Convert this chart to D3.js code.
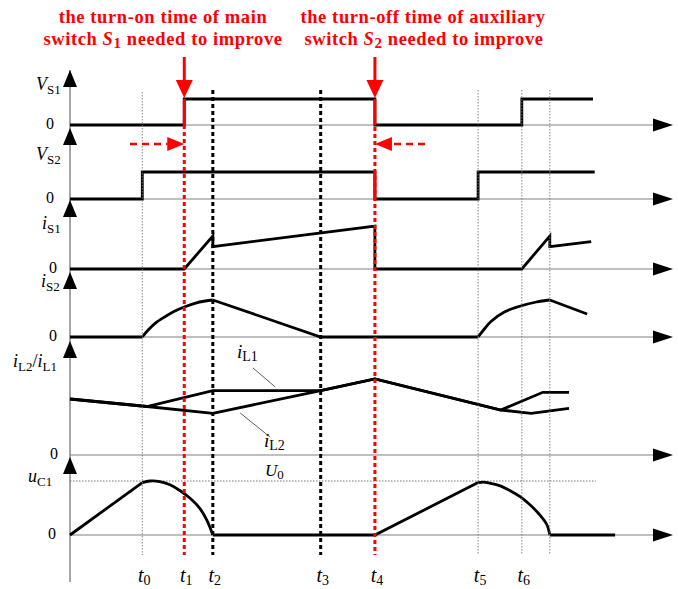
<!DOCTYPE html>
<html>
<head>
<meta charset="utf-8">
<script src="https://cdn.jsdelivr.net/npm/d3@7"></script>
<style>
  body { margin: 0; background: #fff; }
  svg { display: block; }
  text { font-family: "Liberation Serif", "Times New Roman", serif; }
</style>
</head>
<body>
<svg id="chart" width="678" height="589"></svg>
<script>
// ---- Switching instants (arbitrary time units) ----
const instantNames = ["t0", "t1", "t2", "t3", "t4", "t5", "t6", ""];
const instants = [12.4, 19.6, 24.5, 43.0, 52.3, 70.0, 77.5, 82.3];
const [t0, t1, t2, t3, t4, t5, t6, t7] = instants;

// ---- Switch voltages (0 = off, 1 = on level) ----
const vS1 = [[0, 0], [t1, 0], [t1, 1], [t4, 1], [t4, 0], [t6, 0], [t6, 1], [89.7, 1]];
const vS2 = [[0, 0], [t0, 0], [t0, 1], [t4, 1], [t4, 0], [t5, 0], [t5, 1], [90.0, 1]];

// ---- Switch currents ----
const iS1 = [[0, 0], [t1, 0], [t2, 3.3], [t2, 2.23], [t4, 4.3], [t4, 0], [t6, 0],
             [t7, 3.3], [t7, 2.23], [89.4, 2.73]];
const iS2Lines = [
  [[0, 0], [t0, 0]],
  [[t2, 3.7], [t3, 0], [t5, 0]],
  [[t7, 3.7], [88.7, 2.3]]
];
const iS2Arcs = [
  [[t0, 0], [13.4, 0.7], [14.6, 1.37], [16.3, 2.03], [18.0, 2.6], [19.7, 3.03],
   [21.4, 3.37], [23.2, 3.6], [t2, 3.7]],
  [[t5, 0], [71.0, 0.75], [72.2, 1.55], [74.5, 2.5], [77.0, 3.05], [80.0, 3.5], [t7, 3.7]]
];

// ---- Inductor currents ----
const iL1 = [[0, 5.6], [13.2, 4.85], [t2, 6.43], [t3, 6.43], [t4, 7.6], [73.9, 4.5],
             [81.1, 6.27], [85.6, 6.27]];
const iL2 = [[0, 5.6], [13.2, 4.85], [t2, 4.17], [t3, 6.43], [t4, 7.6], [73.9, 4.5],
             [79.1, 4.17], [85.6, 4.67]];

// ---- Resonant capacitor voltage (1 = U0) ----
const U0 = 1;
const uC1Lines = [
  [[0, 0], [t0, 0.97]],
  [[t2, 0], [t4, 0], [t5, 0.97]],
  [[t7, 0], [93.5, 0]]
];
const uC1Arcs = [
  [[t0, 0.97], [13.7, 1.0], [15.4, 0.99], [17.15, 0.93], [18.9, 0.82], [20.6, 0.68],
   [22.3, 0.49], [23.45, 0.28], [t2, 0]],
  [[t5, 0.97], [70.9, 0.98], [72.0, 0.96], [73.8, 0.91], [75.5, 0.82], [77.2, 0.71],
   [78.9, 0.56], [80.6, 0.37], [81.8, 0.19], [t7, 0]]
];

// ---- Layout ----
const svg = d3.select("#chart");
const x = d3.scaleLinear().domain([0, 100]).range([70, 653]);
const axisX0 = x(0), axisX1 = x(100);

const panels = {
  vS1: { base: 125, px: 26, top: 70,  zeroX: 54 },
  vS2: { base: 199, px: 27, top: 128, zeroX: 54 },
  iS1: { base: 269, px: 10, top: 200, zeroX: 57 },
  iS2: { base: 337, px: 10, top: 272, zeroX: 57 },
  iL:  { base: 455, px: 10, top: 341, zeroX: 58 },
  uC1: { base: 535, px: 54, top: 457, zeroX: 56 }
};
Object.values(panels).forEach(p => {
  p.y = d3.scaleLinear().domain([0, 1]).range([p.base, p.base - p.px]);
});

const gAxes = svg.append("g");
const gGuides = svg.append("g");
const gWaves = svg.append("g");
const gMarks = svg.append("g");
const gText = svg.append("g");

// ---- Axes ----
gAxes.append("line")
  .attr("x1", axisX0).attr("x2", axisX0)
  .attr("y1", panels.vS1.top).attr("y2", 582)
  .attr("stroke", "#808080").attr("stroke-width", 1.4);

Object.values(panels).forEach(p => {
  gAxes.append("line")
    .attr("x1", axisX0).attr("x2", axisX1 + 2)
    .attr("y1", p.base).attr("y2", p.base)
    .attr("stroke", "#808080").attr("stroke-width", 1.2);
  // x arrowhead
  gAxes.append("path")
    .attr("d", `M${axisX1},${p.base - 6.5}L${axisX1 + 20},${p.base}L${axisX1},${p.base + 6.5}Z`)
    .attr("fill", "#000");
  // y arrowhead
  gAxes.append("path")
    .attr("d", `M${axisX0},${p.top}L${axisX0 + 7},${p.top + 17}L${axisX0 - 7},${p.top + 17}Z`)
    .attr("fill", "#000");
});

// U0 reference level
gGuides.append("line")
  .attr("x1", axisX0).attr("x2", x(90.2))
  .attr("y1", panels.uC1.y(U0)).attr("y2", panels.uC1.y(U0))
  .attr("stroke", "#666").attr("stroke-width", 0.9).attr("stroke-dasharray", "1.5,1.5");

// ---- Instant guide lines ----
const guideStyle = {
  0: { color: "#777", w: 0.9, dash: "1.5,1.5", y1: 92 },
  1: { color: "#ff0000", w: 3, dash: "4,3", y1: panels.vS1.base },
  2: { color: "#000", w: 3, dash: "4,3", y1: 90 },
  3: { color: "#000", w: 3, dash: "4,3", y1: 90 },
  4: { color: "#ff0000", w: 3, dash: "4,3", y1: panels.vS1.base + 2 },
  5: { color: "#777", w: 0.9, dash: "1.5,1.5", y1: 90 },
  6: { color: "#777", w: 0.9, dash: "1.5,1.5", y1: 90 },
  7: { color: "#777", w: 0.9, dash: "1.5,1.5", y1: 90 }
};

function trace(data, p, curve) {
  gWaves.append("path")
    .attr("d", d3.line().x(d => x(d[0])).y(d => p.y(d[1])).curve(curve || d3.curveLinear)(data))
    .attr("fill", "none").attr("stroke", "#000").attr("stroke-width", 2.8)
    .attr("stroke-linejoin", "miter").attr("stroke-linecap", "butt");
}

const smooth = d3.curveCatmullRom.alpha(0.5);
trace(vS1, panels.vS1);
trace(vS2, panels.vS2);
trace(iS1, panels.iS1);
iS2Lines.forEach(s => trace(s, panels.iS2));
iS2Arcs.forEach(s => trace(s, panels.iS2, smooth));
trace(iL1, panels.iL);
trace(iL2, panels.iL);
uC1Lines.forEach(s => trace(s, panels.uC1));
uC1Arcs.forEach(s => trace(s, panels.uC1, smooth));

instants.forEach((t, i) => {
  const s = guideStyle[i];
  gMarks.append("line")
    .attr("x1", x(t)).attr("x2", x(t))
    .attr("y1", s.y1).attr("y2", 555)
    .attr("stroke", s.color).attr("stroke-width", s.w)
    .attr("stroke-dasharray", s.dash);
});

// ---- Highlighted switching edges ----
const red = "#ff0000";
[[t1, panels.vS1], [t4, panels.vS1], [t4, panels.vS2]].forEach(([t, p]) => {
  gMarks.append("line")
    .attr("x1", x(t)).attr("x2", x(t))
    .attr("y1", p.y(0)).attr("y2", p.y(1))
    .attr("stroke", red).attr("stroke-width", 3);
});

// Downward red arrows at the edges
[t1, t4].forEach(t => {
  const cx = x(t), tip = panels.vS1.y(1) - 1;
  gMarks.append("line")
    .attr("x1", cx).attr("x2", cx).attr("y1", 57).attr("y2", tip - 15)
    .attr("stroke", red).attr("stroke-width", 3);
  gMarks.append("path")
    .attr("d", `M${cx - 8.5},${tip - 18}L${cx + 8.5},${tip - 18}L${cx},${tip}Z`)
    .attr("fill", red);
});

// Dashed horizontal arrows showing the shift direction
const shiftY = 144;
[[t1, -1, 130], [t4, 1, 425]].forEach(([t, dir, tail]) => {
  const tip = x(t), base = tip + dir * 17;
  gMarks.append("line")
    .attr("x1", tail).attr("x2", base).attr("y1", shiftY).attr("y2", shiftY)
    .attr("stroke", red).attr("stroke-width", 2.4).attr("stroke-dasharray", "7,5");
  gMarks.append("path")
    .attr("d", `M${base},${shiftY - 7}L${tip},${shiftY}L${base},${shiftY + 7}Z`)
    .attr("fill", red);
});

// ---- Text ----
function label(g, xPos, yPos, parts, opts = {}) {
  const t = g.append("text").attr("x", xPos).attr("y", yPos)
    .attr("font-size", opts.size || 18)
    .attr("text-anchor", opts.anchor || "start")
    .attr("fill", opts.fill || "#000")
    .attr("font-weight", opts.weight || "normal");
  if (opts.spacing) t.attr("letter-spacing", opts.spacing);
  let shift = 0;
  parts.forEach(([str, kind]) => {
    const span = t.append("tspan").text(str);
    if (kind === "i") span.attr("font-style", "italic");
    const want = kind === "sub" ? (opts.subDy || 4) : 0;
    if (want !== shift) { span.attr("dy", want - shift); shift = want; }
    if (kind === "sub") span.attr("font-size", opts.subSize || 13);
  });
  return t;
}

// Panel names
label(gText, 36, 90, [["V", "i"], ["S1", "sub"]]);
label(gText, 36, 160, [["V", "i"], ["S2", "sub"]]);
label(gText, 42, 229, [["i", "i"], ["S1", "sub"]]);
label(gText, 41, 287, [["i", "i"], ["S2", "sub"]]);
label(gText, 13, 367, [["i", "i"], ["L2", "sub"], ["/", ""], ["i", "i"], ["L1", "sub"]]);
label(gText, 28, 482, [["u", "i"], ["C1", "sub"]]);

// Zero levels
Object.values(panels).forEach(p => {
  gText.append("text").attr("x", p.zeroX).attr("y", p.base + 4)
    .attr("text-anchor", "end").attr("font-size", 16).text("0");
});

// Instant labels
instants.forEach((t, i) => {
  if (!instantNames[i]) return;
  label(gText, x(t) + 2, 582, [["t", "i"], [instantNames[i].slice(1), "sub"]],
        { anchor: "middle", size: 20, subSize: 14, subDy: 3 });
});

// U0 label
label(gText, 265, 476, [["U", "i"], ["0", "sub"]], { size: 17, subSize: 13, subDy: 3 });

// Inductor current labels with leaders
label(gText, 237, 358, [["i", "i"], ["L1", "sub"]], { size: 19, subSize: 14, subDy: 3 });
label(gText, 264, 447, [["i", "i"], ["L2", "sub"]], { size: 19, subSize: 14, subDy: 3 });
gText.append("line")
  .attr("x1", x(31.4)).attr("y1", panels.iL.y(8.7))
  .attr("x2", x(35.2)).attr("y2", panels.iL.y(6.8))
  .attr("stroke", "#333").attr("stroke-width", 0.8);
gText.append("line")
  .attr("x1", x(29.2)).attr("y1", panels.iL.y(4.2))
  .attr("x2", x(34.3)).attr("y2", panels.iL.y(1.8))
  .attr("stroke", "#333").attr("stroke-width", 0.8);

// Red annotations
const titleOpts = { size: 18.5, weight: "bold", fill: red, anchor: "middle",
                    subSize: 15, subDy: 3, spacing: 0.6 };
label(gText, 163, 23, [["the turn-on time of main", ""]], titleOpts);
label(gText, 163, 45, [["switch ", ""], ["S", "i"], ["1", "sub"], [" needed to improve", ""]], titleOpts);
label(gText, 423, 23, [["the turn-off time of auxiliary", ""]], titleOpts);
label(gText, 424, 45, [["switch ", ""], ["S", "i"], ["2", "sub"], [" needed to improve", ""]], titleOpts);
</script>
</body>
</html>
